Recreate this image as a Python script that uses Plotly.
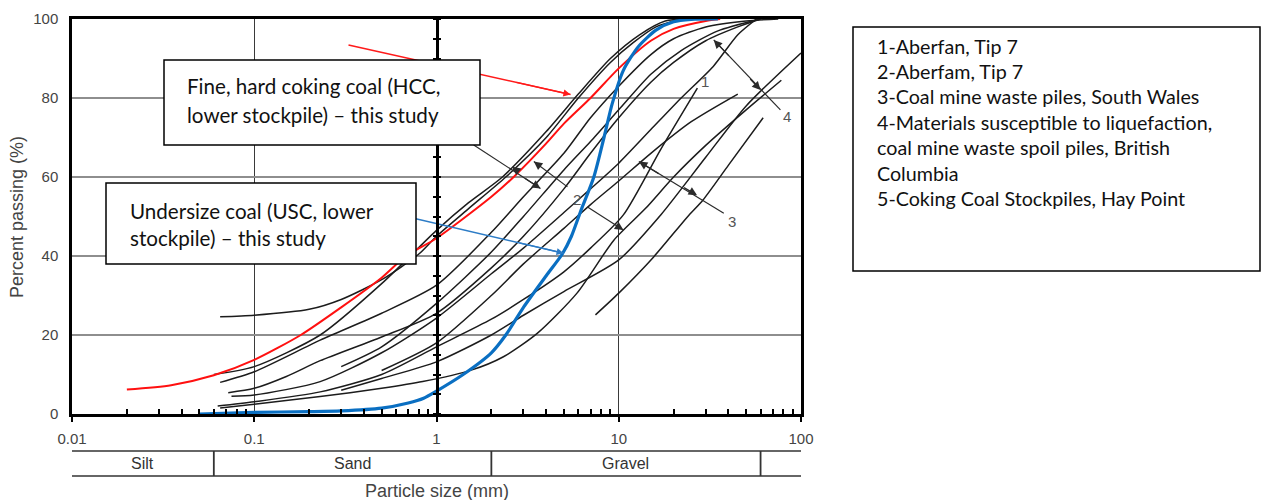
import math
import plotly.graph_objects as go

# ---------------- data ----------------
# Fine hard coking coal (HCC, lower stockpile) - red
hcc_x = [0.02, 0.035, 0.06, 0.1, 0.18, 0.3, 0.5, 0.68, 1, 2, 2.65, 4, 5, 7, 10, 15, 20, 30, 36]
hcc_y = [6.2, 7.3, 9.8, 13.7, 20, 27, 34.5, 40, 44.5, 55, 60, 68.5, 73.5, 80, 87.5, 94.5, 97.5, 99.5, 100]

# Undersize coal (USC, lower stockpile) - blue
usc_x = [0.05, 0.1, 0.2, 0.3, 0.5, 0.7, 0.85, 1, 1.4, 2, 2.4, 3, 4, 4.9, 5.5, 6.2, 7.3, 8.3, 9.2, 10.6, 12.8, 16, 20, 25, 35]
usc_y = [0, 0.4, 0.6, 0.8, 1.5, 2.8, 4, 5.8, 10, 15.5, 20, 27, 35, 40.5, 45, 51.5, 60, 70, 78.5, 87, 93, 97.2, 99.3, 99.9, 100]

# Literature grading curves (black)
lit_a_x = [0.065, 0.1, 0.2, 0.3, 0.5, 0.8, 1, 1.5, 2.4, 4, 6, 9, 12, 16, 22]
lit_a_y = [24.6, 25, 26.5, 29, 34, 40.5, 45, 52, 60, 70, 80, 89, 94, 98, 100]
lit_b_x = [0.06, 0.1, 0.23, 0.5, 1, 1.5, 2.3, 4, 6, 9, 13, 18, 24]
lit_b_y = [10, 12, 20, 33, 46.5, 53.5, 60, 71.5, 81, 90, 96, 99.5, 100]
lit_c_x = [0.065, 0.1, 0.23, 0.5, 1, 2, 3, 5, 7, 10, 15, 20, 30, 50, 75]
lit_c_y = [8, 10.7, 18.7, 25.5, 32.6, 46, 55, 66, 75, 83, 91, 95, 98, 99.5, 100]
lit_d_x = [0.072, 0.1, 0.15, 0.23, 0.5, 1, 2, 3, 5, 7, 10, 15, 20, 30, 45, 60]
lit_d_y = [5.4, 6.5, 9.5, 13.5, 19.5, 25.5, 37, 45, 57, 66, 75, 84, 89, 94.5, 98, 100]
lit_e_x = [0.075, 0.1, 0.23, 0.5, 1, 2, 3, 5, 7, 10, 15, 22, 33, 45, 57]
lit_e_y = [4.5, 4.8, 8.2, 15.5, 24.3, 35.5, 42, 51, 57, 63.5, 72, 80, 88, 96, 100]
lit_f_x = [0.063, 0.1, 0.23, 0.5, 1, 2, 3, 5, 7, 10.6, 17, 27]
lit_f_y = [2, 3.1, 5.6, 10, 17, 24, 29, 36, 42, 50.4, 67, 82.5]
lit_g_x = [0.065, 0.1, 0.23, 0.5, 0.84, 1.55, 2.33, 3.57, 5.9, 9.4, 14, 20, 30, 50, 78]
lit_g_y = [1.5, 2.5, 4.4, 6.5, 8.2, 11.1, 14.5, 20.4, 30.6, 44, 52, 60, 68, 77, 84.5]
lit_h_x = [0.3, 0.5, 1, 2, 3, 5, 10, 17, 30, 50, 100]
lit_h_y = [6, 9, 13.2, 20, 25, 31, 39, 50.4, 65, 78, 91.4]
lit_i_x = [7.45, 10, 15.5, 23.8, 29, 40, 62]
lit_i_y = [25.1, 30.6, 39.7, 49.9, 54.2, 63, 75]
lit_k_x = [0.3, 0.5, 1, 2, 3, 5, 7, 10, 15, 22, 35, 60]
lit_k_y = [12, 17, 28, 41, 50, 61.8, 69, 77, 86, 92, 97, 100]
lit_m_x = [0.5, 1, 2, 3, 5, 7, 10, 15, 25, 45]
lit_m_y = [11, 18, 30, 38, 47, 53, 59, 66, 74, 81]

# Axis ticks
x_tick_vals = [0.01, 0.1, 1, 10, 100]
x_tick_text = ["0.01", "0.1", "1", "10", "100"]
y_tick_vals = [0, 20, 40, 60, 80, 100]
x_minor_vals = [m * 10 ** e for e in (-2, -1, 0, 1) for m in range(2, 10)]

# Soil classes (boundaries in mm)
soil_bounds = [0.01, 0.06, 2, 60, 100]
soil_names = ["Silt", "Sand", "Gravel", ""]

legend_lines = [
    "1-Aberfan, Tip 7",
    "2-Aberfam, Tip 7",
    "3-Coal mine waste piles, South Wales",
    "4-Materials susceptible to liquefaction,",
    "coal mine waste spoil piles, British",
    "Columbia",
    "5-Coking Coal Stockpiles, Hay Point",
]

# ---------------- layout geometry (screen pixels) ----------------
W, H = 1263, 500
PL, PR, PT, PB = 72, 801, 19, 414   # plot area in px
XLOG0, XLOG1 = -2, 2


def pxp(px):
    return (px - PL) / (PR - PL)


def pyp(py):
    return (PB - py) / (PB - PT)


def xfrac(v):
    return (math.log10(v) - XLOG0) / (XLOG1 - XLOG0)


def along(p, q, t):
    lx = math.log10(p[0]) + t * (math.log10(q[0]) - math.log10(p[0]))
    return (10 ** lx, p[1] + t * (q[1] - p[1]))


fig = go.Figure()

BLACK = "#1c1c1c"
for cx, cy in [(lit_a_x, lit_a_y), (lit_b_x, lit_b_y), (lit_c_x, lit_c_y), (lit_d_x, lit_d_y),
               (lit_e_x, lit_e_y), (lit_f_x, lit_f_y), (lit_g_x, lit_g_y), (lit_h_x, lit_h_y),
               (lit_i_x, lit_i_y), (lit_k_x, lit_k_y), (lit_m_x, lit_m_y)]:
    fig.add_trace(go.Scatter(x=cx, y=cy, mode="lines",
                             line=dict(color=BLACK, width=1.5, shape="spline", smoothing=0.7),
                             hoverinfo="skip", showlegend=False))

fig.add_trace(go.Scatter(x=hcc_x, y=hcc_y, mode="lines",
                         line=dict(color="#ff1010", width=2, shape="spline", smoothing=0.7),
                         hoverinfo="skip", showlegend=False))
fig.add_trace(go.Scatter(x=usc_x, y=usc_y, mode="lines",
                         line=dict(color="#0a6fc2", width=3.2, shape="spline", smoothing=0.7),
                         hoverinfo="skip", showlegend=False))

# ---------------- pointer arrows ----------------
red_tail, red_head = (0.329, 93.4), (5.44, 80.9)
blue_tail, blue_head = (0.493, 51.5), (4.99, 40.7)
ARROWC = "#2b2b2b"

fig.add_trace(go.Scatter(x=[red_tail[0], red_head[0]], y=[red_tail[1], red_head[1]], mode="lines",
                         line=dict(color="#ff1a1a", width=1.6), hoverinfo="skip", showlegend=False))
fig.add_trace(go.Scatter(x=[blue_tail[0], blue_head[0]], y=[blue_tail[1], blue_head[1]], mode="lines",
                         line=dict(color="#2d7cc6", width=1.6), hoverinfo="skip", showlegend=False))

# label arrows: (line start, line end, list of (head, toward))
arrow_2a = ((1.60, 68.1), (3.72, 57.1), [((2.60, 62.6), (3.72, 57.1)), ((3.72, 57.1), (1.60, 68.1))])
arrow_2b1 = ((3.42, 63.9), (5.23, 57.5), [((3.42, 63.9), (5.23, 57.5))])
arrow_2b2 = ((6.74, 52.4), (10.6, 46.6), [((10.6, 46.6), (6.74, 52.4))])
arrow_3 = ((12.9, 63.9), (37.7, 50.8), [((12.9, 63.9), (37.7, 50.8)), ((26.9, 55.4), (12.9, 63.9))])
arrow_4 = ((33.2, 94.7), (77.1, 77.0), [((33.2, 94.7), (77.1, 77.0)), ((60.0, 82.0), (33.2, 94.7))])

annotations = []


def head(hpt, toward, color, size=1.3):
    tail = along(hpt, toward, 0.25)
    annotations.append(dict(x=math.log10(hpt[0]), y=hpt[1], xref="x", yref="y",
                            ax=math.log10(tail[0]), ay=tail[1], axref="x", ayref="y",
                            text="", showarrow=True, arrowhead=2, arrowsize=size,
                            arrowwidth=1.3, arrowcolor=color, standoff=0))


for a0, a1, heads in [arrow_2a, arrow_2b1, arrow_2b2, arrow_3, arrow_4]:
    fig.add_trace(go.Scatter(x=[a0[0], a1[0]], y=[a0[1], a1[1]], mode="lines",
                             line=dict(color=ARROWC, width=1.2), hoverinfo="skip", showlegend=False))
    for hp, tw in heads:
        head(hp, tw, ARROWC)

head(red_head, red_tail, "#ff1a1a", 1.1)
head(blue_head, blue_tail, "#2d7cc6", 1.1)

curve_labels = [("1", 29.9, 84.1), ("2", 5.91, 54.2), ("3", 42, 48.7), ("4", 84, 75.3)]
for t, lx, ly in curve_labels:
    annotations.append(dict(x=math.log10(lx), y=ly, xref="x", yref="y", text=t, showarrow=False,
                            xanchor="center", yanchor="middle",
                            font=dict(family="Arial, Liberation Sans", size=15, color="#555")))

# helper traces for the auxiliary axes
fig.add_trace(go.Scatter(x=[0.01, 100], y=[0, 0], xaxis="x2", mode="lines", line=dict(width=0),
                         hoverinfo="skip", showlegend=False))
fig.add_trace(go.Scatter(x=[1, 1], y=[0, 100], yaxis="y2", mode="lines", line=dict(width=0),
                         hoverinfo="skip", showlegend=False))
fig.add_trace(go.Scatter(x=[1, 1], y=[0, 100], yaxis="y3", mode="lines", line=dict(width=0),
                         hoverinfo="skip", showlegend=False))

# ---------------- shapes ----------------
shapes = []
# text boxes (cover curves)
shapes.append(dict(type="rect", xref="paper", yref="paper", x0=pxp(164), x1=pxp(480), y0=pyp(145), y1=pyp(60),
                   fillcolor="white", line=dict(color="black", width=1.5), layer="above"))
shapes.append(dict(type="rect", xref="paper", yref="paper", x0=pxp(106), x1=pxp(416), y0=pyp(264), y1=pyp(183),
                   fillcolor="white", line=dict(color="black", width=1.5), layer="above"))
# legend box
shapes.append(dict(type="rect", xref="paper", yref="paper", x0=pxp(853), x1=pxp(1260), y0=pyp(271), y1=pyp(27),
                   fillcolor="white", line=dict(color="black", width=1.5), layer="above"))
# soil classification bar
bar_top, bar_bot = pyp(451), pyp(476)
for yy in (bar_top, bar_bot):
    shapes.append(dict(type="line", xref="paper", yref="paper", x0=0, x1=1, y0=yy, y1=yy,
                       line=dict(color="#333", width=1.5)))
for b in soil_bounds[1:-1]:
    shapes.append(dict(type="line", xref="paper", yref="paper", x0=xfrac(b), x1=xfrac(b), y0=bar_bot, y1=bar_top,
                       line=dict(color="#333", width=1.8)))
for i, name in enumerate(soil_names):
    if name:
        cx = (xfrac(soil_bounds[i]) + xfrac(soil_bounds[i + 1])) / 2
        annotations.append(dict(x=cx, y=(bar_top + bar_bot) / 2, xref="paper", yref="paper", text=name,
                                showarrow=False, xanchor="center", yanchor="middle",
                                font=dict(family="Arial, Liberation Sans", size=16, color="#333")))

# box texts
BOXFONT = dict(family="Lato, Open Sans, sans-serif", size=20.6, color="#111")
for txt, px, py in [("Fine, hard coking coal (HCC,", 185, 86), ("lower stockpile) \u2013 this study", 185, 115),
                    ("Undersize coal (USC, lower", 128, 211), ("stockpile) \u2013 this study", 128, 238)]:
    annotations.append(dict(x=pxp(px), y=pyp(py), xref="paper", yref="paper", text=txt, showarrow=False,
                            xanchor="left", yanchor="middle", font=BOXFONT))

LEGFONT = dict(family="Lato, Open Sans, sans-serif", size=19.7, color="#111")
for k, line in enumerate(legend_lines):
    annotations.append(dict(x=pxp(875), y=pyp(46 + 25.4 * k), xref="paper", yref="paper", text=line,
                            showarrow=False, xanchor="left", yanchor="middle", font=LEGFONT))

# axis titles
TITLEFONT = dict(family="Arial, Liberation Sans", size=18, color="#444")
annotations.append(dict(x=pxp(436.5), y=pyp(491), xref="paper", yref="paper", text="Particle size (mm)",
                        showarrow=False, xanchor="center", yanchor="middle", font=TITLEFONT))
annotations.append(dict(x=pxp(17), y=pyp(217), xref="paper", yref="paper", text="Percent passing (%)",
                        showarrow=False, textangle=-90, xanchor="center", yanchor="middle", font=TITLEFONT))

TICKFONT = dict(family="Arial, Liberation Sans", size=15, color="#444")
fig.update_layout(
    width=W, height=H,
    margin=dict(l=PL, r=W - PR, t=PT, b=H - PB, pad=0, autoexpand=False),
    paper_bgcolor="white", plot_bgcolor="white",
    showlegend=False,
    xaxis=dict(type="log", range=[XLOG0, XLOG1], tickvals=x_tick_vals, ticktext=x_tick_text,
               ticks="outside", ticklen=5, tickwidth=1.5, tickcolor="black", tickfont=TICKFONT,
               showline=True, linewidth=2.5, linecolor="black", mirror=True, automargin=False,
               showgrid=True, gridcolor="#3a3a3a", gridwidth=1, zeroline=False, ticklabelstandoff=4),
    xaxis2=dict(type="log", range=[XLOG0, XLOG1], overlaying="x", anchor="y", side="bottom",
                tickvals=x_minor_vals, ticks="inside", ticklen=5, tickwidth=1.5, tickcolor="black",
                showticklabels=False, showgrid=False, showline=False, zeroline=False, automargin=False),
    yaxis=dict(range=[0, 100], tickvals=y_tick_vals, ticks="", tickfont=TICKFONT,
               showline=True, linewidth=2.5, linecolor="black", mirror=True, automargin=False,
               showgrid=True, gridcolor="#8e8e8e", gridwidth=1.5, zeroline=False, ticklabelstandoff=8),
    yaxis2=dict(range=[0, 100], overlaying="y", anchor="free", position=0.5, side="left",
                dtick=5, ticks="outside", ticklen=3, tickwidth=2, tickcolor="black",
                showticklabels=False, showgrid=False, zeroline=False, automargin=False,
                showline=True, linewidth=2.5, linecolor="black"),
    yaxis3=dict(range=[0, 100], overlaying="y", anchor="free", position=0.5, side="right",
                dtick=5, ticks="outside", ticklen=3, tickwidth=2, tickcolor="black",
                showticklabels=False, showgrid=False, zeroline=False, automargin=False,
                showline=True, linewidth=2.5, linecolor="black"),
    shapes=shapes,
    annotations=annotations,
)

# remove the default page margin so the figure sits at the window origin
fig.write_html("out.html", config={"displayModeBar": False},
               post_script="document.body.style.margin='0';document.body.style.overflow='hidden';")
